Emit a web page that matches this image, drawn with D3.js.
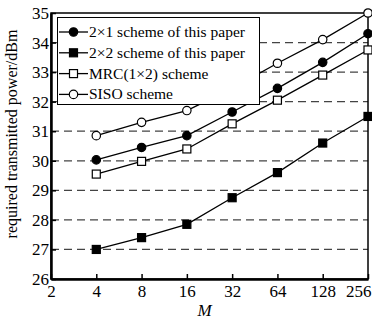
<!DOCTYPE html>
<html>
<head>
<meta charset="utf-8">
<script src="https://cdn.jsdelivr.net/npm/d3@7"></script>
<style>
body { margin: 0; background: #fff; }
svg text { font-family: 'Liberation Serif', 'Times New Roman', 'DejaVu Serif', serif; }
</style>
</head>
<body>
<svg id="chart" width="372" height="320"></svg>
<script>
var mValues = [4, 8, 16, 32, 64, 128, 256];
var xTicks = [2, 4, 8, 16, 32, 64, 128, 256];
var yTicks = [26, 27, 28, 29, 30, 31, 32, 33, 34, 35];
var scheme21 = [30.03, 30.45, 30.85, 31.65, 32.45, 33.33, 34.3];
var scheme22 = [27.0, 27.4, 27.85, 28.75, 29.6, 30.6, 31.5];
var mrc = [29.55, 29.98, 30.4, 31.25, 32.05, 32.9, 33.75];
var siso = [30.85, 31.3, 31.7, 32.45, 33.3, 34.1, 35.0];
var names = ['2\u00d71 scheme of this paper', '2\u00d72 scheme of this paper', 'MRC(1\u00d72) scheme', 'SISO scheme'];

var series = [
  {name: names[0], vals: scheme21, shape: 'circle', fill: '#000'},
  {name: names[1], vals: scheme22, shape: 'square', fill: '#000'},
  {name: names[2], vals: mrc, shape: 'square', fill: '#fff'},
  {name: names[3], vals: siso, shape: 'circle', fill: '#fff'}
];

var pl = 51, pr = 368, pt = 13, pb = 279;
var serif = "'Liberation Serif', 'Times New Roman', serif";
var svg = d3.select('#chart');

var x = d3.scaleLog().base(2).domain([2, 256]).range([pl, pr]);
var y = d3.scaleLinear().domain([26, 35]).range([pb, pt]);

// dashed grid
svg.append('g').selectAll('line')
  .data(yTicks.filter(d => d > 26 && d < 35))
  .enter().append('line')
  .attr('x1', pl).attr('x2', pr)
  .attr('y1', d => y(d)).attr('y2', d => y(d))
  .attr('stroke', '#444').attr('stroke-width', 1.2)
  .attr('stroke-dasharray', '8,5');

// frame
svg.append('rect')
  .attr('x', pl).attr('y', pt)
  .attr('width', pr - pl).attr('height', pb - pt)
  .attr('fill', 'none').attr('stroke', '#000').attr('stroke-width', 1.5);

var xAxis = svg.append('g')
  .attr('transform', 'translate(0,' + pb + ')')
  .call(d3.axisBottom(x).tickValues(xTicks).tickFormat(d3.format('d')).tickSizeInner(-5).tickSizeOuter(0).tickPadding(6));
xAxis.select('.domain').attr('stroke-width', 2.5);
xAxis.selectAll('.tick line').attr('stroke-width', 1.5);
xAxis.selectAll('text').attr('font-size', 17).attr('fill', '#000')
  .style('font-family', serif);
xAxis.selectAll('.tick').filter(d => d === 256).select('text')
  .attr('text-anchor', 'end').attr('x', 3);

var yAxis = svg.append('g')
  .attr('transform', 'translate(' + pl + ',0)')
  .call(d3.axisLeft(y).tickValues(yTicks).tickFormat(d3.format('d')).tickSizeInner(-5).tickSizeOuter(0).tickPadding(2));
yAxis.select('.domain').attr('stroke-width', 2.5);
yAxis.selectAll('.tick line').attr('stroke-width', 1.5);
yAxis.selectAll('text').attr('font-size', 17).attr('fill', '#000')
  .style('font-family', serif);

var line = d3.line().x((d, i) => x(mValues[i])).y(d => y(d));

function marker(g, shape, fill, cx, cy) {
  if (shape === 'circle') {
    g.append('circle').attr('cx', cx).attr('cy', cy).attr('r', 4.2)
      .attr('fill', fill).attr('stroke', '#000').attr('stroke-width', 1.2);
  } else {
    g.append('rect').attr('x', cx - 4).attr('y', cy - 4).attr('width', 8).attr('height', 8)
      .attr('fill', fill).attr('stroke', '#000').attr('stroke-width', 1.2);
  }
}

series.forEach(function (s) {
  svg.append('path').datum(s.vals)
    .attr('d', line).attr('fill', 'none')
    .attr('stroke', '#000').attr('stroke-width', 1.3);
  var g = svg.append('g');
  s.vals.forEach(function (v, i) { marker(g, s.shape, s.fill, x(mValues[i]), y(v)); });
});

// legend
var lg = svg.append('g');
lg.append('rect').attr('x', 57.5).attr('y', 17.5).attr('width', 202).attr('height', 87)
  .attr('fill', '#fff').attr('stroke', '#000').attr('stroke-width', 1);
series.forEach(function (s, i) {
  var ly = 32 + i * 20.8;
  lg.append('line').attr('x1', 59).attr('x2', 88).attr('y1', ly).attr('y2', ly)
    .attr('stroke', '#000').attr('stroke-width', 1.3);
  marker(lg, s.shape, s.fill, 73.5, ly);
  lg.append('text').attr('x', 89).attr('y', ly + 5).attr('font-size', 15.5)
    .style('font-family', serif)
    .text(s.name);
});

svg.append('text')
  .attr('transform', 'translate(17,134) rotate(-90)')
  .attr('text-anchor', 'middle').attr('font-size', 16)
  .style('font-family', serif)
  .text('required transmitted power/dBm');

svg.append('text')
  .attr('x', (pl + pr) / 2 - 5).attr('y', 316)
  .attr('text-anchor', 'middle').attr('font-size', 17).attr('font-style', 'italic')
  .style('font-family', serif)
  .text('M');
</script>
</body>
</html>
